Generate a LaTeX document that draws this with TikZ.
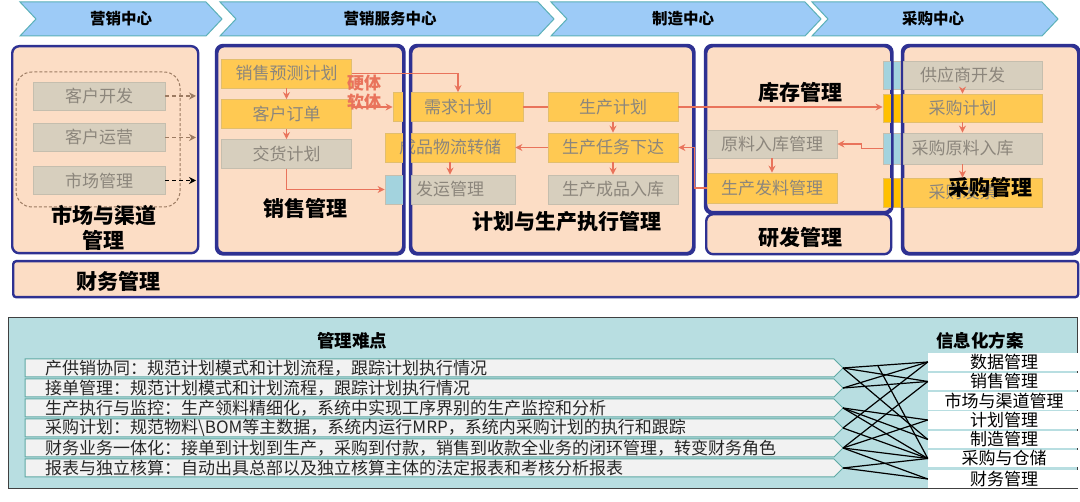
\documentclass[tikz,border=0pt]{standalone}
\usepackage{fontspec}
\setmainfont{Noto Sans CJK SC}
\usetikzlibrary{calc,positioning,arrows.meta}

\definecolor{peach}{HTML}{FCDDC5}
\definecolor{navy}{HTML}{2E3192}
\definecolor{boxyel}{HTML}{FFC952}
\definecolor{yelline}{HTML}{E2BE6E}
\definecolor{deepyel}{HTML}{FFC000}
\definecolor{leftblue}{HTML}{A3D3DE}
\definecolor{boxgray}{HTML}{D7CFBE}
\definecolor{grayline}{HTML}{C5BEAE}
\definecolor{itemtxt}{HTML}{8C867C}
\definecolor{arrcol}{HTML}{E9735B}
\definecolor{dashbrown}{HTML}{9C7B62}
\definecolor{chevfill}{HTML}{9DCBF7}
\definecolor{chevline}{HTML}{5BB1B8}
\definecolor{lowpanel}{HTML}{B8DEE1}
\definecolor{rowfill}{HTML}{F2F2F2}
\definecolor{rowline}{HTML}{5FA9A4}

\tikzset{
  chev/.style={fill=chevfill, draw=chevline, line width=1pt},
  chevtext/.style={font=\fontsize{15.5}{16}\selectfont\bfseries},
  panel/.style={draw=navy, line width=2.4pt, fill=peach, rounded corners=7pt, anchor=north west, inner sep=0pt},
  panelline/.style={draw=navy, line width=2.4pt, rounded corners=7pt},
  item/.style={minimum width=130pt, minimum height=29pt, inner sep=0pt, line width=0.8pt,
    font=\fontsize{17}{17}\selectfont, text=itemtxt},
  yb/.style={item, fill=boxyel, draw=yelline},
  gb/.style={item, fill=boxgray, draw=grayline},
  leftpart/.style 2 args={path picture={\fill[#1] (path picture bounding box.north west)
    rectangle ($(path picture bounding box.south west)+(#2,0)$);}},
  ttl/.style={font=\fontsize{21}{25}\selectfont\bfseries, align=center},
  arr/.style={draw=arrcol, line width=1.6pt, -{Stealth[length=7pt,width=7pt]}},
  ln/.style={draw=arrcol, line width=1.6pt},
  dasharr/.style={draw=dashbrown, line width=1.6pt, dash pattern=on 4pt off 3pt, -{Stealth[length=7pt,width=7pt]}},
  rowtext/.style={font=\fontsize{17}{17}\selectfont, anchor=west, inner sep=0pt, text=black!85},
  solbox/.style={fill=white, minimum width=152pt, minimum height=17.5pt, inner sep=0pt,
    font=\fontsize{17}{17}\selectfont},
  link/.style={draw=black, line width=1.2pt}
}

\begin{document}
\begin{tikzpicture}[x=1pt, y=-1pt]
\useasboundingbox (0,0) rectangle (1080,502);
\fill[white] (0,0) rectangle (1080,502);

% centres along the top
\foreach \xa/\xb/\xt/\nm/\txt in {20/222/121/c1/营销中心, 220/554/390/c2/营销服务中心,
    551/821/683/c3/制造中心, 812/1058/933/c4/采购中心}{
  \draw[chev] (\xa,2) -- (\xb-16,2) -- (\xb,19) -- (\xb-16,36) -- (\xa,36) -- (\xa+16,19) -- cycle;
  \node[chevtext] (\nm) at (\xt,19) {\txt};
}

% panels
\node[panel, minimum width=186pt, minimum height=207pt] (mktbox) at (11,45) {};
\node[panel, minimum width=186pt, minimum height=207pt] (salebox) at (216,45) {};
\node[panel, minimum width=282pt, minimum height=207pt] (planbox) at (410,45) {};
\node[panel, minimum width=185pt, minimum height=166pt] (stockbox) at (705,45) {};
\node[panel, minimum width=185pt, minimum height=40pt] (rdbox) at (705,213) {};
\node[panel, minimum width=175pt, minimum height=207pt] (buybox) at (902,45) {};
\node[panel, rounded corners=3pt, minimum width=1065pt, minimum height=36pt] (finbox) at (12,260) {};

% market and channel
\draw[draw=dashbrown, line width=1pt, dash pattern=on 3pt off 2pt, rounded corners=16pt] (16,72) rectangle (180,207);
\node[gb, minimum width=132pt, minimum height=28pt] (khkf) at (99,96) {客户开发};
\node[gb, minimum width=132pt, minimum height=28pt] (khyy) at (99,137.5) {客户运营};
\node[gb, minimum width=132pt, minimum height=28pt] (scgl) at (99,180.5) {市场管理};
\coordinate (m1) at (196,96);
\coordinate (m2) at (196,137.5);
\coordinate (m3) at (196,180.5);

% sales
\node[yb] (yc) at (286.5,73.5) {销售预测计划};
\node[yb] (kd) at (286.5,114) {客户订单};
\node[gb] (jh) at (286.5,154) {交货计划};

% planning and production
\node[yb] (xq) at (458,107) {需求计划};
\node[yb] (cp) at (450,147.5) {成品物流转储};
\node[gb, leftpart={leftblue}{23}] (fy) at (450,189.5) {发运管理};
\node[yb] (sc) at (613,107) {生产计划};
\node[yb] (rw) at (613,147.5) {生产任务下达};
\node[gb] (rk) at (613,189.5) {生产成品入库};

% stock
\node[gb, minimum height=28pt] (ylrk) at (772,144) {原料入库管理};
\node[yb, minimum height=30pt] (fl) at (772,188) {生产发料管理};

% purchase
\node[gb, leftpart={leftblue}{17}, minimum width=159pt, minimum height=28pt] (gys) at (962.5,75) {供应商开发};
\node[yb, leftpart={deepyel}{17}, minimum width=159pt, minimum height=28pt] (cgjh) at (962.5,108) {采购计划};
\node[gb, leftpart={leftblue}{17}, minimum width=159pt, minimum height=31pt] (cgrk) at (962.5,148.5) {采购原料入库};
\node[yb, leftpart={deepyel}{17}, minimum width=159pt, minimum height=29pt] (fp) at (962.5,192.5) {采购发票};

% borders again over the boxes
\fill[white] (403,45) rectangle (409,252);
\draw[panelline] (salebox.north west) rectangle (salebox.south east);
\draw[panelline] (planbox.north west) rectangle (planbox.south east);
\draw[panelline] (stockbox.north west) rectangle (stockbox.south east);
\draw[panelline] (buybox.north west) rectangle (buybox.south east);

% titles
\node[ttl] (mkttl) at (104,228) {市场与渠道\\管理};
\node[ttl] (salettl) at (305,208) {销售管理};
\node[ttl] (planttl) at (567,222) {计划与生产执行管理};
\node[ttl] (stockttl) at (800,92) {库存管理};
\node[ttl] (rdttl) at (800,238) {研发管理};
\node[ttl] (buyttl) at (990,187) {采购管理};
\node[ttl] (finttl) at (118,281) {财务管理};
\node[font=\fontsize{17}{19}\selectfont\bfseries, text=arrcol, align=center] (hw) at (364,93) {硬体\\软体};

% flows
\draw[dasharr] (khkf) -- (m1);
\draw[dasharr] (khyy) -- (m2);
\draw[dasharr, draw=black] (scgl) -- (m3);
\draw[arr] (yc) -- (kd);
\draw[arr] (kd) -- (jh);
\draw[arr] (yc.east) -| (xq.north);
\draw[arr] (kd.east |- xq.west) -- (xq.west);
\draw[arr] (jh.south) |- (fy.west);
\draw[ln] (xq) -- (sc);
\draw[arr] (sc) -- (rw);
\draw[arr] (rw) -- (cp);
\draw[arr] (cp) -- (fy);
\draw[arr] (rw) -- (rk);
\draw[arr] (sc.east) -- (cgjh.west |- sc.east);
\draw[arr] (cgrk.west) -- ++(-21,0) |- (ylrk.east);
\draw[arr] (ylrk) -- (fl);
\draw[arr] (fl.west) -- ++(-12,0) |- (rw.east);
\draw[arr] (gys) -- (cgjh);
\draw[arr] (cgjh) -- (cgrk);
\draw[arr] (cgrk) -- (fp);

% lower part
\node[draw=black!75, line width=1.2pt, fill=lowpanel, anchor=north west, inner sep=0pt,
  minimum width=1069pt, minimum height=171pt] (lowbox) at (8,317) {};
\node[font=\fontsize{17.5}{18}\selectfont\bfseries] (ndttl) at (352,341) {管理难点};
\node[font=\fontsize{17.5}{18}\selectfont\bfseries] (xxttl) at (980,341) {信息化方案};

\foreach \yc/\nm/\txt in {368/r1/产供销协同：规范计划模式和计划流程，跟踪计划执行情况,
    388/r2/接单管理：规范计划模式和计划流程，跟踪计划执行情况,
    408/r3/生产执行与监控：生产领料精细化，系统中实现工序界别的生产监控和分析,
    428/r4/采购计划：规范物料\textbackslash BOM等主数据，系统内运行MRP，系统内采购计划的执行和跟踪,
    448/r5/财务业务一体化：接单到计划到生产，采购到付款，销售到收款全业务的闭环管理，转变财务角色,
    468/r6/报表与独立核算：自动出具总部以及独立核算主体的法定报表和考核分析报表}{
  \draw[fill=rowfill, draw=rowline, line width=1pt] (25,\yc-9) -- (834,\yc-9) -- (843,\yc) -- (834,\yc+9) -- (25,\yc+9) -- cycle;
  \node[rowtext] (\nm) at (45,\yc) {\txt};
  \coordinate (\nm t) at (843,\yc);
}

\foreach \yc/\nm/\txt in {362/d1/数据管理, 381.5/d2/销售管理, 401/d3/市场与渠道管理, 420/d4/计划管理,
    439.5/d5/制造管理, 458.5/d6/采购与仓储, 479/d7/财务管理}{
  \node[solbox] (\nm) at (1004,\yc) {\txt};
}

\coordinate (mid) at (878,366);
\draw[link] (r1t) -- (d1.west);
\draw[link] (r1t) -- (d2.west);
\draw[link] (r1t) -- (d5.west);
\draw[link] (r2t) -- (d1.west);
\draw[link] (r2t) -- (d2.west);
\draw[link] (mid) -- (d6.west);
\draw[link] (r3t) -- (d4.west);
\draw[link] (r3t) -- (d5.west);
\draw[link] (r3t) -- (d6.west);
\draw[link] (r4t) -- (d1.west);
\draw[link] (r4t) -- (d6.west);
\draw[link] (r5t) -- (d2.west);
\draw[link] (r5t) -- (d4.west);
\draw[link] (r5t) -- (d6.west);
\draw[link] (r5t) -- (d7.west);
\draw[link] (r6t) -- (d6.west);
\draw[link] (r6t) -- (d7.west);
\end{tikzpicture}
\end{document}
